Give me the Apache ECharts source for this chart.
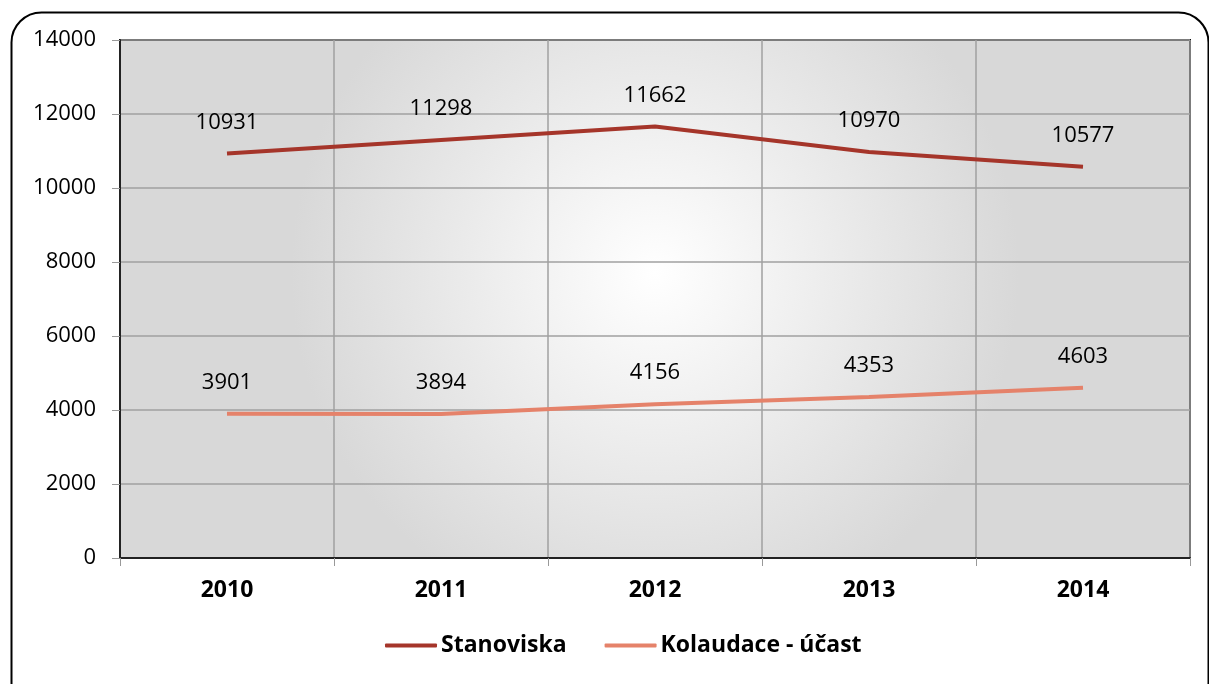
<!DOCTYPE html>
<html><head><meta charset="utf-8">
<script src="https://cdn.jsdelivr.net/npm/echarts@6/dist/echarts.min.js"></script>
<style>html,body{margin:0;padding:0;background:#fff}#c{width:1209px;height:684px}</style>
</head><body><div id="c"></div>
<script>
const categories = ['2010','2011','2012','2013','2014'];
const stanoviska = [10931, 11298, 11662, 10970, 10577];
const kolaudace = [3901, 3894, 4156, 4353, 4603];
const seriesNames = ['Stanoviska', 'Kolaudace - účast'];
const FONT = '"Open Sans", "Noto Sans", sans-serif';
const chart = echarts.init(document.getElementById('c'));
const lbl = { show: true, position: 'top', distance: 20, fontFamily: FONT, fontSize: 22, color: '#000' };
chart.setOption({
  animation: false,
  backgroundColor: '#fff',
  graphic: [{
    type: 'rect', left: 9, top: 10, z: -1,
    shape: { width: 1197, height: 700, r: 30 },
    style: { fill: 'none', stroke: '#000', lineWidth: 2 }
  }],
  grid: {
    left: 120, right: 19, top: 40, bottom: 126, show: true,
    borderColor: '#111', borderWidth: 2,
    backgroundColor: new echarts.graphic.RadialGradient(0.5, 0.45, 0.7, [
      { offset: 0, color: '#ffffff' },
      { offset: 1, color: '#d8d8d8' }
    ])
  },
  legend: {
    bottom: 22, left: 380, itemWidth: 52, itemHeight: 4, itemGap: 38,
    icon: 'roundRect',
    textStyle: { fontFamily: FONT, fontWeight: 'bold', fontSize: 23, color: '#000', padding: [0, 0, 0, -1] },
    data: seriesNames
  },
  xAxis: {
    type: 'category', data: categories, boundaryGap: true,
    axisLine: { lineStyle: { color: '#222', width: 2 } },
    axisTick: { show: true, alignWithLabel: false, length: 8, lineStyle: { color: '#999' } },
    splitLine: { show: true, lineStyle: { color: '#a0a0a0', width: 1.5 } },
    axisLabel: { fontFamily: FONT, fontWeight: 'bold', fontSize: 23, color: '#000', margin: 21 }
  },
  yAxis: {
    type: 'value', min: 0, max: 14000, interval: 2000,
    axisLine: { show: true, lineStyle: { color: '#222', width: 2 } },
    axisTick: { show: true, length: 8, lineStyle: { color: '#999' } },
    splitLine: { show: true, lineStyle: { color: '#a0a0a0', width: 1.5 } },
    axisLabel: { fontFamily: FONT, fontSize: 22, color: '#000', margin: 24, formatter: v => String(v) }
  },
  series: [
    {
      name: seriesNames[0], type: 'line', data: stanoviska, symbol: 'circle', symbolSize: 0.1, showSymbol: true,
      lineStyle: { color: '#a5352a', width: 4 }, itemStyle: { color: '#a5352a' },
      label: lbl
    },
    {
      name: seriesNames[1], type: 'line', data: kolaudace, symbol: 'circle', symbolSize: 0.1, showSymbol: true,
      lineStyle: { color: '#e5826a', width: 4 }, itemStyle: { color: '#e5826a' },
      label: lbl
    }
  ]
});
</script></body></html>
